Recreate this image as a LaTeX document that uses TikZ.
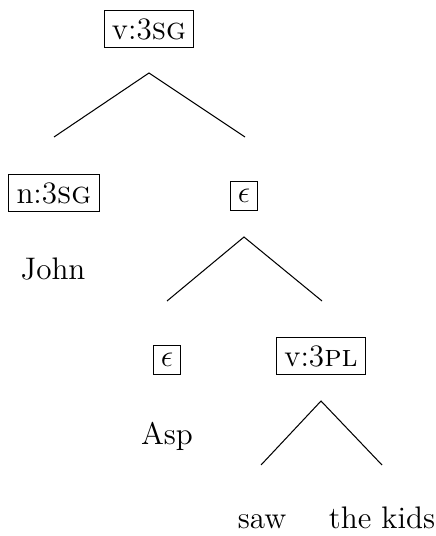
\documentclass[tikz,border=0pt]{standalone}
\usepackage{amsmath,amssymb}
\usepackage{tikz}
\usetikzlibrary{positioning,calc}

\tikzset{
  featbox/.style={draw, line width=0.4pt, inner sep=3pt, font=\large},
  leaf/.style={inner sep=1pt, anchor=base, font=\large},
  branch/.style={line width=0.4pt}
}

\begin{document}
\begin{tikzpicture}[x=0.01354cm, y=-0.01354cm]
\useasboundingbox (0,0) rectangle (435,536);
% feature nodes
\node[featbox] (root) at (149,29) {v:3\textsc{sg}};
\node[featbox] (subj) at (54,193) {n:3\textsc{sg}};
\node[featbox] (aspP) at (244,196) {$\epsilon$};
\node[featbox] (asp)  at (167,360) {$\epsilon$};
\node[featbox] (vp)   at (321,356) {v:3\textsc{pl}};
% words
\node[leaf] (john) at (53,280) {John};
\node[leaf] (aspw) at (167,444) {Asp};
\node[leaf] (saw)  at (262,528) {saw};
\node[leaf] (kids) at (382,528) {the kids};
% branches
\foreach \p/\a/\l/\r in {root/73/54/245, aspP/237/167/322, vp/401/261/382} {
  \coordinate (\p-top) at (\p.center |- 0,\a);
  \coordinate (\p-l) at ($(\l,\a)+(0,64)$);
  \coordinate (\p-r) at ($(\r,\a)+(0,64)$);
  \draw[branch] (\p-l) -- (\p-top) -- (\p-r);
}
\end{tikzpicture}
\end{document}
